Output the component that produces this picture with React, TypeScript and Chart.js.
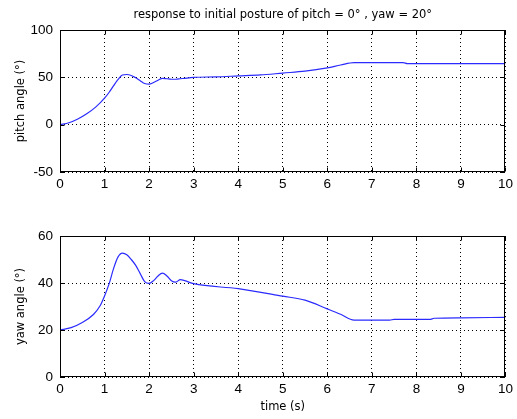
import React, { useEffect, useRef } from "react";
import { Chart, registerables } from "chart.js";

Chart.register(...registerables);

const TITLE = "response to initial posture of pitch = 0° , yaw = 20°";
const X_TICKS = [0, 1, 2, 3, 4, 5, 6, 7, 8, 9, 10];
const PITCH_TICKS = [-50, 0, 50, 100];
const YAW_TICKS = [0, 20, 40, 60];

const pitchTime = [0, 0.2, 0.4, 0.6, 0.8, 1.0, 1.1, 1.2, 1.3, 1.4, 1.5, 1.6, 1.7, 1.8, 1.9, 2.0, 2.1, 2.2, 2.3, 2.4, 2.5, 2.6, 2.7, 2.8, 2.9, 3.0, 3.5, 4.0, 4.5, 5.0, 5.5, 6.0, 6.3, 6.6, 7.0, 7.5, 7.7, 7.8, 8.0, 9.0, 10.0];
const pitchDeg = [0, 2, 6, 11.5, 18.5, 28, 34, 41, 47.5, 52.5, 53, 52, 49.5, 46.5, 43.5, 42.8, 44.5, 47, 49, 48.5, 48, 48, 48.5, 49, 49.5, 50, 50.5, 51.5, 52.5, 54.5, 56.5, 60, 63, 65.5, 65.5, 65.5, 65.5, 64.5, 64.5, 64.5, 64.5];

const yawTime = [0, 0.25, 0.5, 0.75, 0.9, 1.0, 1.1, 1.2, 1.3, 1.4, 1.5, 1.6, 1.7, 1.8, 1.9, 2.0, 2.1, 2.2, 2.3, 2.4, 2.5, 2.6, 2.7, 2.8, 3.0, 4.0, 5.0, 5.5, 6.0, 6.3, 6.6, 7.4, 7.5, 8.3, 8.4, 9.0, 10.0];
const yawDeg = [20, 21, 23.2, 26.6, 30.3, 34.5, 39.5, 46, 51, 52.7, 52, 50, 47.5, 44, 40.6, 39.8, 41, 43, 44.2, 43, 41, 40.4, 41.4, 41, 39.7, 37.6, 34.4, 32.7, 29, 26.7, 24.2, 24.2, 24.5, 24.5, 25, 25.2, 25.4];

const TICK_FONT = { family: "'Liberation Sans Narrow', 'Arial Narrow', Arial, sans-serif", size: 13.5 };
const LABEL_FAMILY = "'DejaVu Sans', Verdana, sans-serif";
const LABEL_FONT = { family: LABEL_FAMILY, size: 11.5 };

const titlePlugin = {
  id: "axesTitle",
  afterDraw(chart: any, _args: any, opts: any) {
    if (!opts || !opts.text) return;
    const { ctx, chartArea } = chart;
    ctx.save();
    ctx.fillStyle = "#000";
    ctx.font = `normal ${LABEL_FONT.size}px ${LABEL_FAMILY}`;
    ctx.textAlign = "center";
    ctx.textBaseline = "middle";
    ctx.fillText(opts.text, (chartArea.left + chartArea.right) / 2, opts.y);
    ctx.restore();
  },
};

const boxPlugin = {
  id: "matlabBox",
  afterDraw(chart: any) {
    const { ctx, chartArea } = chart;
    const l = Math.round(chartArea.left) + 0.5;
    const t = Math.round(chartArea.top) + 0.5;
    const r = Math.round(chartArea.right) - 0.5;
    const b = Math.round(chartArea.bottom) - 0.5;
    ctx.save();
    ctx.strokeStyle = "#000";
    ctx.lineWidth = 1;
    ctx.setLineDash([]);
    ctx.strokeRect(l, t, r - l, b - t);
    const tl = 4;
    const xs = chart.scales.x;
    const ys = chart.scales.y;
    ctx.beginPath();
    xs.ticks.forEach((tk: any) => {
      const px = Math.round(xs.getPixelForValue(tk.value)) + 0.5;
      ctx.moveTo(px, b);
      ctx.lineTo(px, b - tl);
      ctx.moveTo(px, t);
      ctx.lineTo(px, t + tl);
    });
    ys.ticks.forEach((tk: any) => {
      const py = Math.round(ys.getPixelForValue(tk.value)) + 0.5;
      ctx.moveTo(l, py);
      ctx.lineTo(l + tl, py);
      ctx.moveTo(r, py);
      ctx.lineTo(r - tl, py);
    });
    ctx.stroke();
    ctx.restore();
  },
};

function makeConfig(opts: {
  times: number[];
  values: number[];
  yTicks: number[];
  yLabel: string;
  xLabel?: string;
  title?: string;
  topPad: number;
  xHeight: number;
}) {
  const { times, values, yTicks, yLabel, xLabel, title, topPad, xHeight } = opts;
  return {
    type: "line" as const,
    data: {
      datasets: [
        {
          data: times.map((t, i) => ({ x: t, y: values[i] })),
          borderColor: "#2b2bff",
          borderWidth: 1.2,
          pointRadius: 0,
          fill: false,
          cubicInterpolationMode: "monotone" as const,
        },
      ],
    },
    options: {
      animation: false as const,
      responsive: false,
      maintainAspectRatio: false,
      events: [],
      layout: { padding: { left: 0, right: 10, top: topPad, bottom: 0 } },
      plugins: {
        legend: { display: false },
        tooltip: { enabled: false },
        title: { display: false },
        axesTitle: { text: title || "", y: 15 },
      },
      scales: {
        x: {
          type: "linear" as const,
          min: X_TICKS[0],
          max: X_TICKS[X_TICKS.length - 1],
          afterBuildTicks: (s: any) => {
            s.ticks = X_TICKS.map((v) => ({ value: v }));
          },
          afterFit: (s: any) => {
            s.height = xHeight;
          },
          ticks: { color: "#000", font: TICK_FONT, padding: 4, maxRotation: 0, autoSkip: false },
          grid: { color: "#000", lineWidth: 1, drawTicks: false },
          border: { display: false, dash: [1, 3] },
          title: xLabel
            ? { display: true, text: xLabel, color: "#000", font: { ...LABEL_FONT, lineHeight: 1.2 }, padding: { top: 0, bottom: 12 - 6.9 } }
            : { display: false },
        },
        y: {
          type: "linear" as const,
          min: yTicks[0],
          max: yTicks[yTicks.length - 1],
          afterBuildTicks: (s: any) => {
            s.ticks = yTicks.map((v) => ({ value: v }));
          },
          afterFit: (s: any) => {
            s.width = 60;
          },
          ticks: { color: "#000", font: TICK_FONT, padding: 7, autoSkip: false },
          grid: { color: "#000", lineWidth: 1, drawTicks: false },
          border: { display: false, dash: [1, 3] },
          title: { display: true, text: yLabel, color: "#000", font: { ...LABEL_FONT, lineHeight: 1.2 }, padding: { top: 21 - 6.9, bottom: 0 } },
        },
      },
    },
    plugins: [boxPlugin, titlePlugin],
  };
}

export default function App() {
  const topRef = useRef<HTMLCanvasElement>(null);
  const botRef = useRef<HTMLCanvasElement>(null);

  useEffect(() => {
    document.body.style.margin = "0";
    document.body.style.background = "#fff";
    const c1 = new Chart(
      topRef.current!,
      makeConfig({
        times: pitchTime,
        values: pitchDeg,
        yTicks: PITCH_TICKS,
        yLabel: "pitch angle (°)",
        title: TITLE,
        topPad: 30,
        xHeight: 28,
      }) as any
    );
    const c2 = new Chart(
      botRef.current!,
      makeConfig({
        times: yawTime,
        values: yawDeg,
        yTicks: YAW_TICKS,
        yLabel: "yaw angle (°)",
        xLabel: "time (s)",
        topPad: 36,
        xHeight: 42,
      }) as any
    );
    return () => {
      c1.destroy();
      c2.destroy();
    };
  }, []);

  return (
    <div style={{ position: "fixed", left: 0, top: 0, width: 517, height: 419, background: "#fff" }}>
      <canvas ref={topRef} width={517} height={200} style={{ position: "absolute", left: 0, top: 0, width: 517, height: 200 }} />
      <canvas ref={botRef} width={517} height={219} style={{ position: "absolute", left: 0, top: 200, width: 517, height: 219 }} />
    </div>
  );
}
